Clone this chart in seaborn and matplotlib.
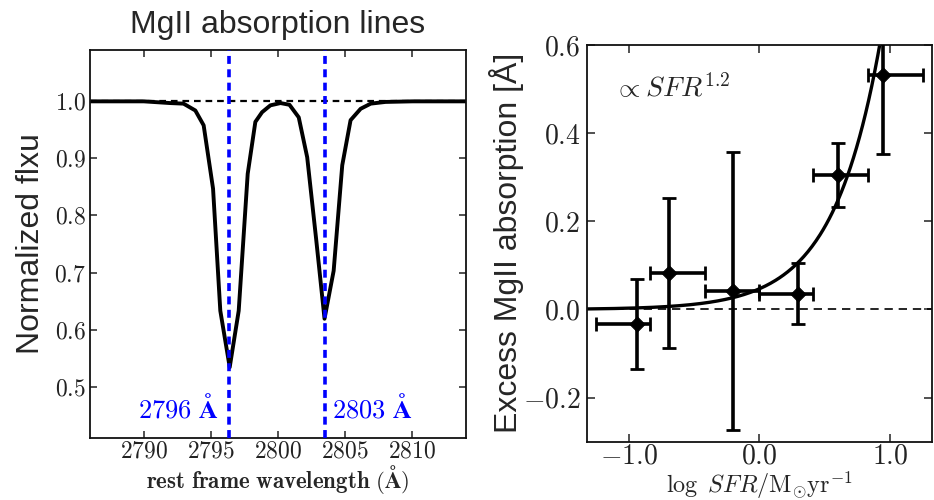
"""
MgII absorption: stacked doublet profile and excess absorption vs SFR
"""

import numpy as np
import pandas as pd
import matplotlib
matplotlib.use("Agg")
import matplotlib.pyplot as plt
import seaborn as sns
from matplotlib.ticker import FixedLocator, FuncFormatter


# Set style
sns.set_style("ticks")
plt.rcParams['font.family'] = ['Liberation Sans', 'DejaVu Sans']
plt.rcParams['mathtext.fontset'] = 'cm'
plt.rcParams['axes.linewidth'] = 1.3

# Left panel: normalized stacked spectrum around the MgII doublet
wavelength = [2786.0, 2788.0, 2790.0, 2791.97, 2792.96, 2793.84, 2794.46,
              2795.16, 2795.70, 2796.40, 2797.07, 2797.74, 2798.31, 2798.81,
              2799.43, 2800.18, 2800.85, 2801.54, 2802.17, 2802.83, 2803.46,
              2804.14, 2804.78, 2805.40, 2806.15, 2806.90, 2808.0, 2810.0,
              2812.0, 2814.0]
flux = [1.0, 1.0, 1.0, 0.997, 0.996, 0.984, 0.958,
        0.847, 0.633, 0.534, 0.633, 0.873, 0.964, 0.981,
        0.993, 0.997, 0.994, 0.972, 0.902, 0.760, 0.619,
        0.703, 0.888, 0.967, 0.987, 0.996, 0.999, 1.0,
        1.0, 1.0]
line_centers = [2796.35, 2803.53]
line_names = ['2796', '2803']

# Right panel: excess MgII absorption in SFR bins
log_sfr = [-0.937, -0.69, -0.20, 0.293, 0.60, 0.945]
bin_lo = [-1.25, -0.837, -0.419, 0.0, 0.414, 0.83]
bin_hi = [-0.837, -0.419, 0.0, 0.414, 0.83, 1.25]
excess = [-0.033, 0.082, 0.042, 0.036, 0.305, 0.532]
excess_err = [0.103, 0.17, 0.315, 0.069, 0.072, 0.18]

# power-law fit, EW = norm * SFR^index
fit_norm = 0.047
fit_index = 1.2


fig = plt.figure(figsize=(9.34, 5.0), dpi=100)
ax1 = fig.add_axes([0.0964, 0.124, 0.4026, 0.776])
ax2 = fig.add_axes([0.6288, 0.1166, 0.3687, 0.7934])

# ---- left panel
spec = pd.DataFrame({'wavelength': wavelength, 'flux': flux})
ax1.axhline(1.0, color='k', lw=1.6, ls=(0, (3, 2.2)), zorder=1)
sns.lineplot(data=spec, x='wavelength', y='flux', ax=ax1, color='k',
             lw=2.8, estimator=None, zorder=2)
for wl, name, side in zip(line_centers, line_names, ['right', 'left']):
    ax1.axvline(wl, color='blue', lw=2.6, ls=(0, (2.2, 1.5)), zorder=3)
    off = -0.75 if side == 'right' else 0.45
    ax1.text(wl + off, 0.463, r'$\mathbf{%s\ Å}$' % name, color='blue',
             fontsize=19, ha=side, va='center')

ax1.set_xlim(2786, 2814)
ax1.set_ylim(0.41, 1.09)
ax1.xaxis.set_major_locator(FixedLocator([2790, 2795, 2800, 2805, 2810]))
ax1.yaxis.set_major_locator(FixedLocator([0.5, 0.6, 0.7, 0.8, 0.9, 1.0]))
ax1.xaxis.set_major_formatter(FuncFormatter(lambda v, p: f'${v:.0f}$'))
ax1.yaxis.set_major_formatter(FuncFormatter(lambda v, p: f'${v:.1f}$'))
ax1.tick_params(direction='in', top=True, right=True, length=5, width=1.1,
                labelsize=17, colors='#222222')
ax1.tick_params(axis='x', pad=2)
ax1.tick_params(axis='y', pad=3)
ax1.set_title('MgII absorption lines', fontsize=23, pad=12)
ax1.set_xlabel(r'$\mathbf{rest\ frame\ wavelength\ (Å)}$', fontsize=16.5)
ax1.set_ylabel('Normalized flxu', fontsize=23)
ax1.xaxis.set_label_coords(0.5, -0.106)
ax1.xaxis.label.set_va('center')
ax1.yaxis.set_label_coords(-0.157, 0.5)
ax1.yaxis.label.set_va('center')

# ---- right panel
x_fit = np.linspace(-1.32, 1.0, 300)
fit = pd.DataFrame({'log_sfr': x_fit,
                    'ew': fit_norm * (10 ** x_fit) ** fit_index})
ax2.axhline(0.0, color='k', lw=1.2, ls=(0, (5, 3.5)), zorder=1)
sns.lineplot(data=fit, x='log_sfr', y='ew', ax=ax2, color='k', lw=2.4,
             estimator=None, zorder=2)

xs = np.array(log_sfr)
xerr = [xs - np.array(bin_lo), np.array(bin_hi) - xs]
ax2.errorbar(log_sfr, excess, xerr=xerr, yerr=excess_err, fmt='none',
             ecolor='k', elinewidth=2.6, capsize=5, capthick=2, zorder=3)
sns.scatterplot(x=log_sfr, y=excess, ax=ax2, marker='D', s=60, color='k',
                edgecolor='k', zorder=4)

ax2.text(0.078, 0.89, r'$\propto SFR^{1.2}$', transform=ax2.transAxes,
         fontsize=20, ha='left', va='center')
ax2.set_xlim(-1.32, 1.32)
ax2.set_ylim(-0.3, 0.6)
ax2.xaxis.set_major_locator(FixedLocator([-1.0, 0.0, 1.0]))
ax2.yaxis.set_major_locator(FixedLocator([-0.2, 0.0, 0.2, 0.4, 0.6]))
fmt = FuncFormatter(lambda v, p: f'${v:.1f}$')
ax2.xaxis.set_major_formatter(fmt)
ax2.yaxis.set_major_formatter(fmt)
ax2.tick_params(direction='in', top=True, right=True, length=6, width=1.1,
                labelsize=20, colors='#222222')
ax2.tick_params(axis='x', pad=1)
ax2.tick_params(axis='y', pad=5)
ax2.set_xlabel(r'$\log\ SFR/\mathrm{M_{\odot}yr^{-1}}$', fontsize=17.5)
ax2.set_ylabel('Excess MgII absorption [Å]', fontsize=23)
ax2.xaxis.set_label_coords(0.5, -0.11)
ax2.xaxis.label.set_va('center')
ax2.yaxis.set_label_coords(-0.236, 0.5)
ax2.yaxis.label.set_va('center')

for ax in (ax1, ax2):
    for sp in ax.spines.values():
        sp.set_visible(True)
        sp.set_color('#111111')

fig.savefig('out.png', dpi=100)
